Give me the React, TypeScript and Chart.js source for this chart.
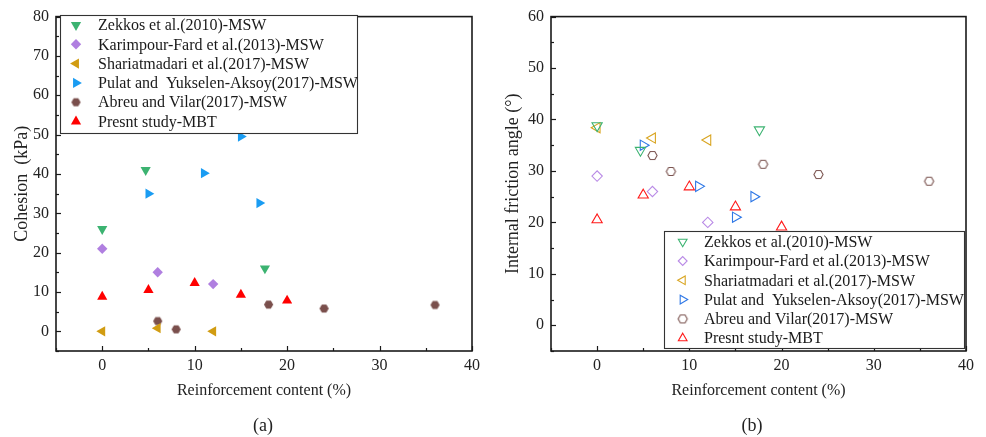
import React, { useEffect, useRef } from 'react';
import { Chart, registerables } from 'chart.js';
import { drawPoint } from 'chart.js/helpers';

Chart.register(...registerables);

// ---------- DATA ----------
const seriesNames = [
  'Zekkos et al.(2010)-MSW',
  'Karimpour-Fard et al.(2013)-MSW',
  'Shariatmadari et al.(2017)-MSW',
  'Pulat and  Yukselen-Aksoy(2017)-MSW',
  'Abreu and Vilar(2017)-MSW',
  'Presnt study-MBT',
];

const zekkosX = [0, 4.7, 17.6];
const zekkosCohesion = [26, 41, 16];
const zekkosFriction = [38.8, 34, 38];

const karimpourX = [0, 6, 12];
const karimpourCohesion = [21, 15, 12];
const karimpourFriction = [29, 26, 20];

const shariatmadariX = [0, 6, 12];
const shariatmadariCohesion = [0, 0.8, 0];
const shariatmadariFriction = [38.4, 36.4, 36];

const pulatX = [5, 11, 15, 17];
const pulatCohesion = [35, 40.2, 49.5, 32.6];
const pulatFriction = [35, 27, 21, 25];

const abreuX = [6, 8, 18, 24, 36];
const abreuCohesion = [2.6, 0.5, 6.8, 5.8, 6.7];
const abreuFriction = [33, 29.9, 31.3, 29.3, 28];

const presentX = [0, 5, 10, 15, 20];
const presentCohesion = [8.8, 10.5, 12.3, 9.3, 7.8];
const presentFriction = [20.5, 25.3, 26.9, 23, 19.1];

const xTicksMin = -5;
const xTicksMax = 40;
const cohesionMin = -5;
const cohesionMax = 80;
const frictionMin = -5;
const frictionMax = 60;

const seriesX = [zekkosX, karimpourX, shariatmadariX, pulatX, abreuX, presentX];
const cohesionY = [zekkosCohesion, karimpourCohesion, shariatmadariCohesion, pulatCohesion, abreuCohesion, presentCohesion];
const frictionY = [zekkosFriction, karimpourFriction, shariatmadariFriction, pulatFriction, abreuFriction, presentFriction];

// ---------- STYLES ----------
const FONT = '"Liberation Serif", "Times New Roman", serif';
const filledColors = ['#3cb371', '#b07fe0', '#d19c12', '#1a9cf2', '#7a4f4c', '#ff0000'];
const hollowColors = ['#3cb371', '#b98ae6', '#d9a521', '#2f78e6', '#7b5450', '#ff1a1a'];
const rotations = [180, 0, -90, 90, 0, 0];

function makeHexagon(color: string, filled: boolean, r: number) {
  const size = Math.ceil(r * 2 + 3);
  const c = document.createElement('canvas');
  c.width = size;
  c.height = size;
  const ctx = c.getContext('2d')!;
  ctx.beginPath();
  for (let k = 0; k < 6; k++) {
    const a = (Math.PI / 3) * k;
    const px = size / 2 + r * Math.cos(a);
    const py = size / 2 + r * Math.sin(a);
    if (k === 0) ctx.moveTo(px, py);
    else ctx.lineTo(px, py);
  }
  ctx.closePath();
  if (filled) {
    ctx.fillStyle = color;
    ctx.fill();
  } else {
    ctx.strokeStyle = color;
    ctx.lineWidth = 1.1;
    ctx.stroke();
  }
  return c;
}

const framePlugin = {
  id: 'frameLegend',
  afterDatasetsDraw(chart: any, _args: any, opts: any) {
    const ctx = chart.ctx as CanvasRenderingContext2D;
    const { left, right, top, bottom } = chart.chartArea;
    ctx.save();
    // inward ticks
    ctx.strokeStyle = '#1a1a1a';
    ctx.lineWidth = 1.2;
    const xs = chart.scales.x;
    const ys = chart.scales.y;
    xs.ticks.forEach((t: any) => {
      const px = Math.round(xs.getPixelForValue(t.value)) + 0.5;
      const len = t.value % 10 === 0 ? 5 : 3;
      ctx.beginPath();
      ctx.moveTo(px, bottom);
      ctx.lineTo(px, bottom - len);
      ctx.stroke();
    });
    ys.ticks.forEach((t: any) => {
      const py = Math.round(ys.getPixelForValue(t.value)) + 0.5;
      const len = t.value % 10 === 0 ? 5 : 3;
      ctx.beginPath();
      ctx.moveTo(left, py);
      ctx.lineTo(left + len, py);
      ctx.stroke();
    });
    // frame
    ctx.lineWidth = 1.6;
    ctx.strokeStyle = '#1a1a1a';
    ctx.strokeRect(left, top, right - left, bottom - top);

    // legend
    const b = opts.box;
    ctx.fillStyle = '#ffffff';
    ctx.fillRect(b.x, b.y, b.w, b.h);
    ctx.lineWidth = 1.1;
    ctx.strokeStyle = '#333333';
    ctx.strokeRect(b.x + 0.5, b.y + 0.5, b.w, b.h);
    chart.data.datasets.forEach((ds: any, i: number) => {
      const y = opts.rowY0 + i * opts.rowGap;
      ctx.save();
      ctx.fillStyle = ds.backgroundColor;
      ctx.strokeStyle = ds.borderColor;
      ctx.lineWidth = ds.borderWidth;
      drawPoint(ctx, {
        pointStyle: ds.pointStyle,
        rotation: ds.rotation,
        radius: ds.pointRadius * opts.markerScale,
        borderWidth: ds.borderWidth,
      } as any, opts.markerX, y);
      ctx.restore();
      ctx.fillStyle = '#1a1a1a';
      ctx.font = '16px ' + FONT;
      ctx.textBaseline = 'middle';
      ctx.textAlign = 'left';
      ctx.fillText(ds.label, opts.textX, y + 1);
    });
    ctx.restore();
  },
};

type PanelProps = {
  left: number;
  width: number;
  height: number;
  filled: boolean;
  ys: number[][];
  yMin: number;
  yMax: number;
  yTitle: string;
  yAxisWidth: number;
  padRight: number;
  yTitlePad: number;
  legend: any;
};

function Panel(p: PanelProps) {
  const ref = useRef<HTMLCanvasElement | null>(null);
  useEffect(() => {
    const colors = p.filled ? filledColors : hollowColors;
    const hex = makeHexagon(colors[4], p.filled, 4.6);
    const datasets = seriesNames.map((name, i) => ({
      label: name,
      data: seriesX[i].map((x, j) => ({ x, y: p.ys[i][j] })),
      pointStyle: i === 4 ? hex : i === 1 ? 'rectRot' : 'triangle',
      rotation: rotations[i],
      pointRadius: i === 1 ? 5.2 : 5.9,
      backgroundColor: p.filled ? colors[i] : 'rgba(0,0,0,0)',
      borderColor: colors[i],
      borderWidth: p.filled ? 0 : 1.1,
      showLine: false,
    }));
    const chart = new Chart(ref.current!, {
      type: 'scatter',
      data: { datasets },
      options: {
        animation: false,
        responsive: false,
        events: [],
        layout: { padding: { left: 0, top: 15, right: p.padRight, bottom: 0 } },
        plugins: {
          legend: { display: false },
          tooltip: { enabled: false },
          frameLegend: p.legend,
        } as any,
        scales: {
          x: {
            type: 'linear',
            min: xTicksMin,
            max: xTicksMax,
            grid: { display: false, drawTicks: false },
            border: { display: false },
            ticks: {
              stepSize: 5,
              autoSkip: false,
              maxRotation: 0,
              padding: 5,
              color: '#222',
              font: { family: FONT, size: 16 },
              callback: (v: any) => (Number(v) % 10 === 0 ? String(v) : ''),
            },
            title: {
              display: true,
              text: 'Reinforcement content (%)',
              color: '#222',
              font: { family: FONT, size: 16 },
              padding: { top: 0, bottom: 37 },
            },
            afterFit: (s: any) => {
              s.height = p.height - 351;
            },
          },
          y: {
            type: 'linear',
            min: p.yMin,
            max: p.yMax,
            grid: { display: false, drawTicks: false },
            border: { display: false },
            ticks: {
              stepSize: 5,
              autoSkip: false,
              padding: 7,
              color: '#222',
              font: { family: FONT, size: 16 },
              callback: (v: any) => (Number(v) % 10 === 0 ? String(v) : ''),
            },
            title: {
              display: true,
              text: p.yTitle,
              color: '#222',
              font: { family: FONT, size: 18 },
              padding: { top: p.yTitlePad, bottom: 0 },
            },
            afterFit: (s: any) => {
              s.width = p.yAxisWidth;
            },
          },
        },
      } as any,
      plugins: [framePlugin as any],
    });
    return () => chart.destroy();
  }, []);
  return (
    <canvas
      ref={ref}
      width={p.width}
      height={p.height}
      style={{ position: 'absolute', left: p.left, top: 0, width: p.width, height: p.height }}
    />
  );
}

export default function App() {
  const W = 493;
  const H = 437;
  return (
    <div style={{ position: 'fixed', left: 0, top: 0, width: 986, height: 437, background: '#fff', overflow: 'hidden' }}>
      <Panel
        left={0}
        width={W}
        height={H}
        filled={true}
        ys={cohesionY}
        yMin={cohesionMin}
        yMax={cohesionMax}
        yTitle="Cohesion  (kPa)"
        yAxisWidth={56}
        padRight={W - 472}
        yTitlePad={11}
        legend={{ box: { x: 60, y: 15, w: 297, h: 118 }, rowY0: 25, rowGap: 19.3, markerX: 76, textX: 98, markerScale: 1.0 }}
      />
      <Panel
        left={W}
        width={W}
        height={H}
        filled={false}
        ys={frictionY}
        yMin={frictionMin}
        yMax={frictionMax}
        yTitle="Internal friction angle (°)"
        yAxisWidth={58}
        padRight={W - 473}
        yTitlePad={9}
        legend={{ box: { x: 171, y: 231, w: 300, h: 117 }, rowY0: 241.7, rowGap: 19.3, markerX: 189.7, textX: 211, markerScale: 0.85 }}
      />
      <div style={{ position: 'absolute', left: 213, top: 412, width: 100, textAlign: 'center', font: '18px ' + FONT, lineHeight: '26px', color: '#222' }}>(a)</div>
      <div style={{ position: 'absolute', left: 702, top: 412, width: 100, textAlign: 'center', font: '18px ' + FONT, lineHeight: '26px', color: '#222' }}>(b)</div>
    </div>
  );
}
